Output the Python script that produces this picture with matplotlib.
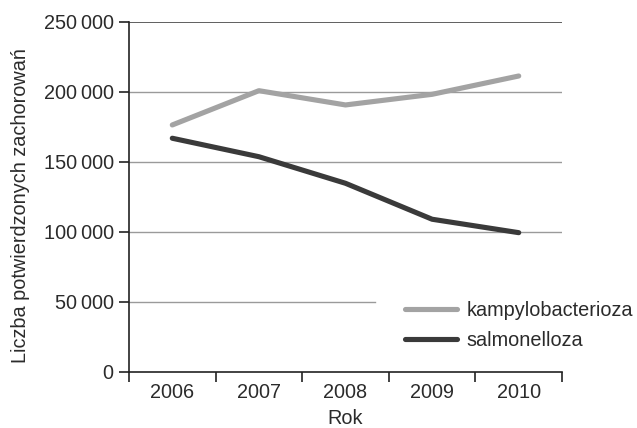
import matplotlib
matplotlib.use("Agg")
import matplotlib.pyplot as plt

plt.rcParams["font.family"] = ["Liberation Sans", "DejaVu Sans"]

years = ["2006", "2007", "2008", "2009", "2010"]
kampylo = [176400, 200900, 190700, 198300, 211400]
salmo = [166900, 153700, 134700, 109000, 99400]
y_ticks = [0, 50000, 100000, 150000, 200000, 250000]

TXT = "#2b2b2b"
FS = 14.3

fig = plt.figure(figsize=(6.37, 4.28), dpi=100)
ax = fig.add_axes([0.2025, 0.1315, 0.6798, 0.8171])

x = list(range(len(years)))
ax.plot(x, kampylo, color="#a3a3a3", lw=3.7, solid_capstyle="round",
        label="kampylobacterioza", zorder=3)
ax.plot(x, salmo, color="#3a3a3a", lw=3.7, solid_capstyle="round",
        label="salmonelloza", zorder=3)

# gridlines (the 50 000 one is cut short by the legend)
for v in y_ticks[1:-1]:
    xmax = 0.568 if v == 50000 else 1.0
    ax.axhline(v, xmin=0, xmax=xmax, color="#9a9a9a", lw=1.0, zorder=1)
ax.axhline(250000, color="#444444", lw=1.2, zorder=1)

ax.set_xlim(-0.5, len(years) - 0.5)
ax.set_ylim(0, 250000)

for s in ["top", "right"]:
    ax.spines[s].set_visible(False)
for s in ["left", "bottom"]:
    ax.spines[s].set_color("#222222")
    ax.spines[s].set_linewidth(1.2)

ax.set_yticks(y_ticks)
ax.set_yticklabels([f"{v:,}".replace(",", "\u2009") for v in y_ticks])
ax.set_xticks([i - 0.5 for i in range(len(years) + 1)])
ax.set_xticklabels([])
ax.set_xticks(x, minor=True)
ax.set_xticklabels(years, minor=True)
ax.tick_params(axis="x", which="major", length=7, width=1.2, color="#222222")
ax.tick_params(axis="x", which="minor", length=0, pad=8, labelsize=FS,
               labelcolor=TXT)
ax.tick_params(axis="y", length=7, width=1.2, color="#222222", pad=4,
               labelsize=FS, labelcolor=TXT)

ax.set_xlabel("Rok", fontsize=FS, color=TXT, labelpad=5)
ax.set_ylabel("Liczba potwierdzonych zachorowań", fontsize=FS, color=TXT)
ax.yaxis.set_label_coords(-0.228, 0.475)

ax.legend(loc="upper left", bbox_to_anchor=(0.637, 0.203), frameon=False,
          fontsize=FS, handlelength=2.65, handletextpad=0.45,
          labelspacing=0.55, borderpad=0, borderaxespad=0, labelcolor=TXT)

fig.savefig("out.png", dpi=100)
